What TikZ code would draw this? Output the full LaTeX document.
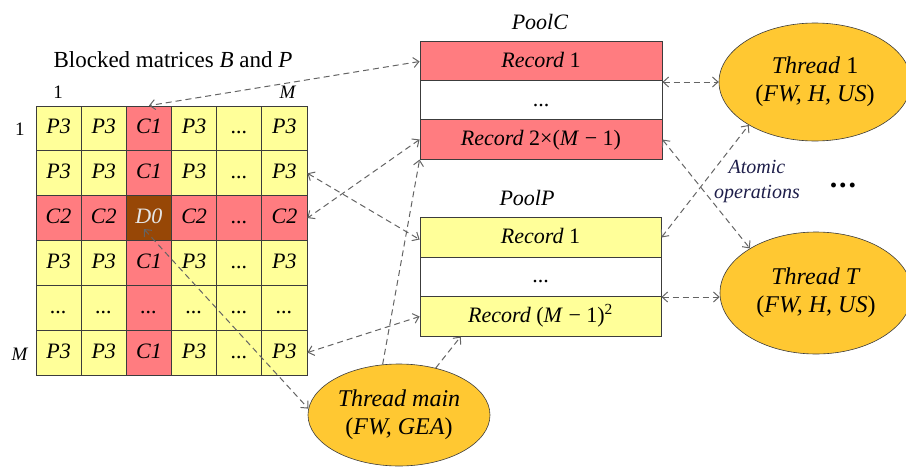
\documentclass[tikz,border=0pt]{standalone}
\usepackage{fontspec}
\setmainfont{Liberation Serif}
\usetikzlibrary{arrows.meta,shapes.geometric,calc}

\definecolor{cellY}{HTML}{FFFF99}
\definecolor{cellR}{HTML}{FF7C80}
\definecolor{cellD}{HTML}{974706}
\definecolor{thr}{HTML}{FFC832}
\definecolor{lnk}{HTML}{646464}
\definecolor{edge}{HTML}{3C3C3C}
\definecolor{atom}{HTML}{1E1E4A}

\newcommand{\ellip}{...}

\tikzset{
  txt/.style={font=\fontsize{22}{25}\selectfont},
  cell/.style={txt, draw=edge, line width=0.8pt, minimum width=45.2pt, minimum height=44.8pt,
               inner sep=0pt, anchor=center, text height=14pt, text depth=3pt},
  rec/.style={txt, draw=edge, line width=0.8pt, minimum width=242pt, minimum height=39.3pt,
              inner sep=0pt, text height=15pt, text depth=4pt},
  thread/.style={font=\fontsize{24}{28}\selectfont, ellipse, draw=edge, line width=0.6pt,
                 fill=thr, align=center, inner sep=0pt},
  link/.style={draw=lnk, line width=1pt, dash pattern=on 6pt off 4pt,
               arrows={Straight Barb[length=5.5pt,width=10pt]-Straight Barb[length=5.5pt,width=10pt]}},
  linkto/.style={draw=lnk, line width=1pt, dash pattern=on 6pt off 4pt,
               arrows={-Straight Barb[length=5.5pt,width=10pt]}},
  lbl/.style={font=\fontsize{19}{22}\selectfont}
}

\begin{document}
\begin{tikzpicture}[x=1pt,y=-1pt]
\useasboundingbox (0,0) rectangle (906,469);
\clip (0,0) rectangle (906,469);

% ---- blocked matrix ----
\node[font=\fontsize{23}{26}\selectfont] (title) at (173,60)
  {Blocked matrices \textit{B} and \textit{P}};
\node[lbl] (colA) at (58,92) {1};
\node[lbl] (colB) at (288,92) {\textit{M}};
\node[lbl] (rowA) at (20,129) {1};
\node[lbl] (rowB) at (20,354) {\textit{M}};

\foreach \r/\a/\b/\c/\d/\e/\f in {
  1/P3/P3/C1/P3/\ellip/P3,
  2/P3/P3/C1/P3/\ellip/P3,
  3/C2/C2/D0/C2/\ellip/C2,
  4/P3/P3/C1/P3/\ellip/P3,
  5/\ellip/\ellip/\ellip/\ellip/\ellip/\ellip,
  6/P3/P3/C1/P3/\ellip/P3}{
  \foreach \k/\t in {1/\a,2/\b,3/\c,4/\d,5/\e,6/\f}{
    \pgfmathsetmacro{\cx}{36+45.17*(\k-0.5)}
    \pgfmathsetmacro{\cy}{106+44.83*(\r-0.5)}
    \ifnum\r=3
      \ifnum\k=3
        \node[cell, fill=cellD, text=white!90!black] (m-\r-\k) at (\cx,\cy) {\textit{\t}};
      \else
        \node[cell, fill=cellR] (m-\r-\k) at (\cx,\cy) {\textit{\t}};
      \fi
    \else
      \ifnum\k=3
        \node[cell, fill=cellR] (m-\r-\k) at (\cx,\cy) {\textit{\t}};
      \else
        \node[cell, fill=cellY] (m-\r-\k) at (\cx,\cy) {\textit{\t}};
      \fi
    \fi
  }
}

% ---- pools ----
\node[txt] (poolC) at (540,22) {\textit{PoolC}};
\node[rec, fill=cellR] (pc1) at (541,61.5) {\textit{Record} 1};
\node[rec, fill=white] (pc2) at (541,100.5) {\ellip};
\node[rec, fill=cellR] (pc3) at (541,139.5) {\textit{Record} 2×(\textit{M} − 1)};

\node[txt] (poolP) at (527,198) {\textit{PoolP}};
\node[rec, fill=cellY, minimum width=241pt] (pp1) at (540.5,237.5) {\textit{Record} 1};
\node[rec, fill=white, minimum width=241pt] (pp2) at (540.5,277) {\ellip};
\node[rec, fill=cellY, minimum width=241pt] (pp3) at (540.5,316.5) {\textit{Record} (\textit{M} − 1)\textsuperscript{2}};

% ---- threads ----
\node[thread, minimum width=182pt, minimum height=102pt] (tmain) at (399,415)
  {\textit{Thread main}\\(\textit{FW, GEA})};
\node[thread, minimum width=192pt, minimum height=118pt] (t1) at (815,82)
  {\textit{Thread} 1\\(\textit{FW, H, US})};
\node[thread, minimum width=192pt, minimum height=122pt] (tT) at (816,293)
  {\textit{Thread T}\\(\textit{FW, H, US})};

\node[font=\fontsize{20}{25}\selectfont\itshape, text=atom, align=center] (atomic) at (757,182)
  {Atomic\\operations};
\node[font=\fontsize{30}{30}\selectfont\bfseries] (more) at (843,185) {.\hspace{2pt}.\hspace{2pt}.};

% ---- connectors ----
\coordinate (d0tip) at ($(m-3-3.center)+(-5,11)$);
\draw[link] (pc1.west) -- (m-1-3.north);
\draw[link] (pc3.west) -- (m-3-6.east);
\draw[link] (m-2-6.east) -- ($(pp1.west)+(0,2)$);
\draw[link] (m-6-6.east) -- (pp3.west);
\draw[link] (d0tip) -- (tmain.176);
\draw[linkto] (tmain.108) -- (pc3.south west);
\draw[linkto] (tmain.52) -- ($(pp3.south west)!0.17!(pp3.south east)$);
\draw[link] (t1.west -| pc2.east) -- (t1.west);
\draw[link] ($(pp2.east)+(0,20)$) -- ($(tT.west)+(0,4)$);
\draw[link] (pp1.east) -- (t1.213);
\draw[link] (pc3.east) -- (tT.146);
\end{tikzpicture}
\end{document}
